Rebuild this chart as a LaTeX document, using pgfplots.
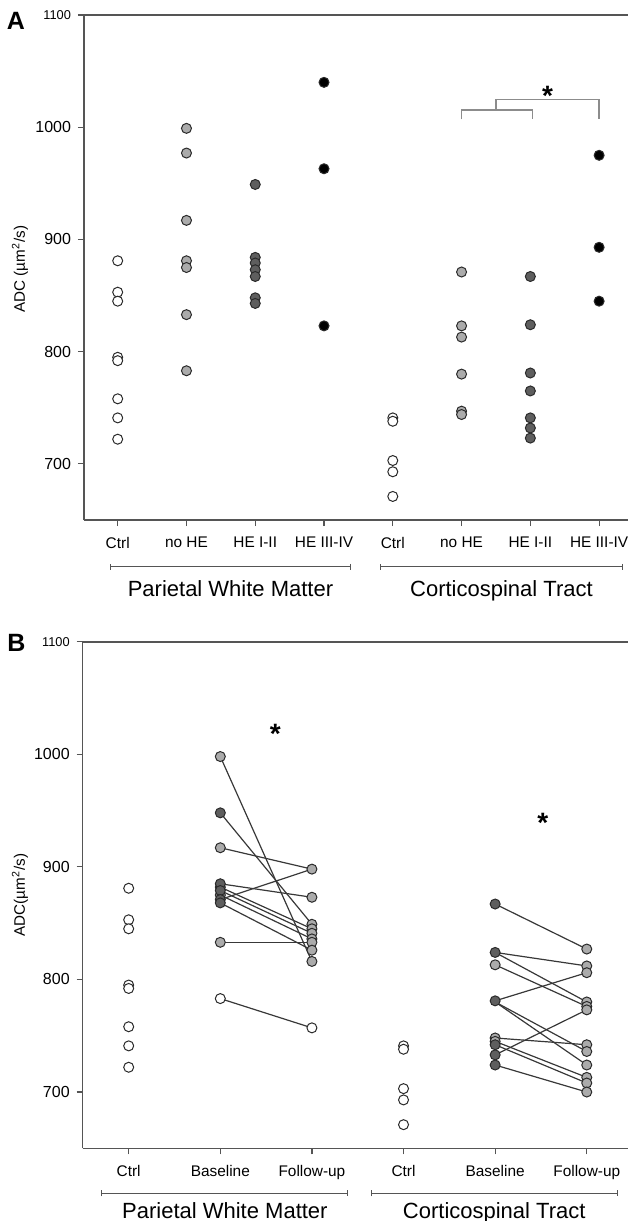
\documentclass[border=0pt]{standalone}
\usepackage{pgfplots}
\pgfplotsset{compat=1.18}
\usepackage{fontspec}
\setmainfont{Liberation Sans}
\usetikzlibrary{arrows.meta}
\definecolor{lg}{HTML}{ABABAB}
\definecolor{dg}{HTML}{5E5E5E}
\definecolor{axc}{HTML}{555555}
\definecolor{edge}{HTML}{2A2A2A}
\definecolor{lnc}{HTML}{383838}
\definecolor{brc}{HTML}{8C8C8C}
\pgfplotsset{
 common/.style={
  scale only axis, clip=false,
  axis lines*=left, axis line style={axc, line width=0.8bp, -},
  ymin=650, ymax=1100, ytick={700,800,900,1000,1100},
  yticklabels={700,800,900,1000,{\fontsize{6.4bp}{7bp}\selectfont 1100}},
  tick align=outside, major tick length=3bp, tick style={axc, line width=0.6bp},
  xticklabel style={font=\fontsize{7.7bp}{9bp}\selectfont, yshift=-2bp},
  yticklabel style={font=\fontsize{8bp}{9bp}\selectfont},
 },
 pt/.style={only marks, mark=*, mark size=2.5bp, mark options={draw=edge, line width=0.5bp, fill=#1}},
 ln/.style={draw=lnc, line width=0.6bp, no marks},
}
\tikzset{grp/.style={axc, line width=0.6bp, {Bar[width=3bp]}-{Bar[width=3bp]}}}
\newcommand{\grpfont}{\fontsize{11bp}{13bp}\selectfont}
\newcommand{\starfont}{\fontsize{14bp}{15bp}\selectfont\bfseries}
\begin{document}
\begin{tikzpicture}
\useasboundingbox (0,0) rectangle (314.5bp,-610.5bp);
% ---------------- Panel A ----------------
\begin{axis}[common, at={(42bp,-260bp)}, anchor=south west, width=272bp, height=252.5bp,
  xmin=-0.49, xmax=7.42, xtick={0,1,2,3,4,5,6,7},
  xticklabels={Ctrl,no HE,HE I-II,HE III-IV,Ctrl,no HE,HE I-II,HE III-IV}]
\draw[axc, line width=0.8bp] (rel axis cs:0,1) -- (rel axis cs:1,1);
\addplot[pt=white] coordinates {(0,881) (0,853) (0,845) (0,795) (0,792) (0,758) (0,741) (0,722)};
\addplot[pt=lg] coordinates {(1,999) (1,977) (1,917) (1,881) (1,875) (1,833) (1,783)};
\addplot[pt=dg] coordinates {(2,949) (2,884) (2,879) (2,873) (2,867) (2,848) (2,843)};
\addplot[pt=black] coordinates {(3,1040) (3,963) (3,823)};
\addplot[pt=white] coordinates {(4,741) (4,738) (4,703) (4,693) (4,671)};
\addplot[pt=lg] coordinates {(5,871) (5,823) (5,813) (5,780) (5,747) (5,744)};
\addplot[pt=dg] coordinates {(6,867) (6,824) (6,781) (6,765) (6,741) (6,732) (6,723)};
\addplot[pt=black] coordinates {(7,975) (7,893) (7,845)};
\draw[brc, line width=0.7bp] (axis cs:5,1007) -- (axis cs:5,1015.4) -- (axis cs:6.03,1015.4) -- (axis cs:6.03,1007);
\draw[brc, line width=0.7bp] (axis cs:5.5,1015.4) -- (axis cs:5.5,1024.7) -- (axis cs:7,1024.7) -- (axis cs:7,1007);
\node[anchor=north, inner sep=0pt, font=\starfont] at (axis cs:6.25,1036.5) {*};
\draw[grp] (axis cs:-0.116,608.3) -- (axis cs:3.39,608.3);
\draw[grp] (axis cs:3.81,608.3) -- (axis cs:7.35,608.3);
\node[anchor=base, font=\grpfont] at (axis cs:1.64,582) {Parietal White Matter};
\node[anchor=base, font=\grpfont] at (axis cs:5.58,582) {Corticospinal Tract};
\end{axis}
% ---------------- Panel B ----------------
\begin{axis}[common, at={(41.35bp,-574.15bp)}, anchor=south west, width=272.65bp, height=253.3bp,
  xmin=-0.502, xmax=5.45, xtick={0,1,2,3,4,5},
  xticklabels={Ctrl,Baseline,Follow-up,Ctrl,Baseline,Follow-up}]
\draw[axc, line width=0.8bp] (rel axis cs:0,1) -- (rel axis cs:1,1);
% Parietal white matter: baseline -> follow-up
\addplot[ln] coordinates {(1,998) (2,816)};
\addplot[ln] coordinates {(1,948) (2,849)};
\addplot[ln] coordinates {(1,917) (2,898)};
\addplot[ln] coordinates {(1,885) (2,873)};
\addplot[ln] coordinates {(1,882) (2,845)};
\addplot[ln] coordinates {(1,879) (2,841)};
\addplot[ln] coordinates {(1,875) (2,836)};
\addplot[ln] coordinates {(1,871) (2,898)};
\addplot[ln] coordinates {(1,868) (2,826)};
\addplot[ln] coordinates {(1,833) (2,833)};
\addplot[ln] coordinates {(1,783) (2,757)};
% Corticospinal tract: baseline -> follow-up
\addplot[ln] coordinates {(4,867) (5,827)};
\addplot[ln] coordinates {(4,824) (5,812)};
\addplot[ln] coordinates {(4,824) (5,780)};
\addplot[ln] coordinates {(4,813) (5,776)};
\addplot[ln] coordinates {(4,781) (5,806)};
\addplot[ln] coordinates {(4,780) (5,736)};
\addplot[ln] coordinates {(4,780) (5,724)};
\addplot[ln] coordinates {(4,748) (5,742)};
\addplot[ln] coordinates {(4,745) (5,713)};
\addplot[ln] coordinates {(4,742) (5,708)};
\addplot[ln] coordinates {(4,733) (5,773)};
\addplot[ln] coordinates {(4,724) (5,700)};
% marks
\addplot[pt=white] coordinates {(0,881) (0,853) (0,845) (0,795) (0,792) (0,758) (0,741) (0,722)};
\addplot[pt=lg] coordinates {(1,998) (1,917) (1,882) (1,875) (1,833)};
\addplot[pt=dg] coordinates {(1,948) (1,885) (1,879) (1,871) (1,868)};
\addplot[pt=white] coordinates {(1,783) (2,757)};
\addplot[pt=lg] coordinates {(2,898) (2,873) (2,849) (2,845) (2,841) (2,836) (2,833) (2,826) (2,816)};
\addplot[pt=white] coordinates {(3,741) (3,738) (3,703) (3,693) (3,671)};
\addplot[pt=lg] coordinates {(4,813) (4,748) (4,745)};
\addplot[pt=dg] coordinates {(4,867) (4,824) (4,781) (4,742) (4,733) (4,724)};
\addplot[pt=lg] coordinates {(5,827) (5,812) (5,806) (5,780) (5,776) (5,773) (5,742) (5,736) (5,724) (5,713) (5,708) (5,700)};
\node[anchor=north, inner sep=0pt, font=\starfont] at (axis cs:1.6,1027) {*};
\node[anchor=north, inner sep=0pt, font=\starfont] at (axis cs:4.52,948.3) {*};
\draw[grp] (axis cs:-0.30,610) -- (axis cs:2.395,610);
\draw[grp] (axis cs:2.645,610) -- (axis cs:5.34,610);
\node[anchor=base, font=\grpfont] at (axis cs:1.05,587.5) {Parietal White Matter};
\node[anchor=base, font=\grpfont] at (axis cs:3.99,587.5) {Corticospinal Tract};
\end{axis}
% panel letters and y labels
\node[font=\fontsize{12.5bp}{14bp}\selectfont\bfseries] at (8bp,-10.5bp) {A};
\node[font=\fontsize{12.5bp}{14bp}\selectfont\bfseries] at (8.25bp,-321.6bp) {B};
\node[rotate=90, font=\fontsize{7.6bp}{9bp}\selectfont] at (10bp,-134.6bp) {ADC (µm\textsuperscript{2}/s)};
\node[rotate=90, font=\fontsize{7.6bp}{9bp}\selectfont] at (10bp,-447.5bp) {ADC(µm\textsuperscript{2}/s)};
\end{tikzpicture}
\end{document}
